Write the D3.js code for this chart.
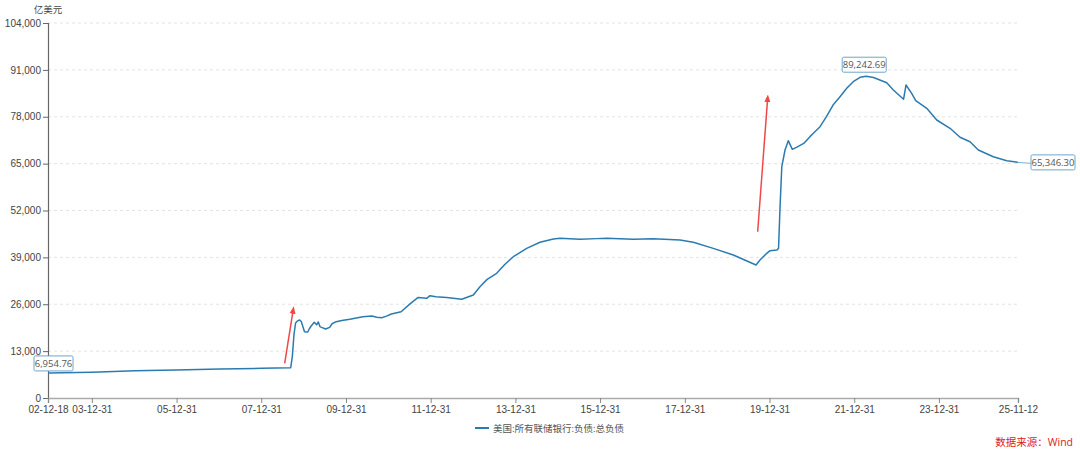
<!DOCTYPE html>
<html>
<head>
<meta charset="utf-8">
<script src="https://cdn.jsdelivr.net/npm/d3@7"></script>
<style>
  body { margin: 0; background: #fff; }
  svg { display: block; font-family: "Open Sans", "Noto Sans CJK SC", sans-serif; }
  .grid line { stroke: #e3e3e3; stroke-dasharray: 3,3; }
</style>
</head>
<body>
<div id="chart"></div>
<script>
// weekly series (亿美元)
var dates = ["2002-12-18","2004-01-01","2005-01-06","2005-12-26","2007-01-09","2008-01-06","2008-09-10",
  "2008-09-24","2008-10-08","2008-10-22","2008-11-05","2008-11-26","2008-12-10","2009-01-07","2009-02-04",
  "2009-02-18","2009-03-04","2009-04-01","2009-04-22","2009-05-06","2009-05-20","2009-06-03","2009-07-08",
  "2009-08-12","2009-09-02","2009-10-07","2009-11-25","2010-02-02","2010-05-25","2010-08-11","2010-09-22",
  "2010-11-03","2010-12-15","2011-01-26","2011-04-20","2011-07-06","2011-09-14","2011-11-27","2011-12-25",
  "2012-02-15","2012-05-17","2012-09-24","2013-01-02","2013-02-28","2013-05-01","2013-07-22","2013-10-02",
  "2013-12-13","2014-04-07","2014-07-31","2014-11-23","2015-01-19","2015-07-11","2015-12-02","2016-02-25",
  "2016-10-12","2017-04-03","2017-11-19","2018-03-14","2018-09-02","2019-02-22","2019-09-06","2019-10-10",
  "2019-12-07","2020-01-05","2020-03-04","2020-03-18","2020-03-31","2020-04-15","2020-05-13","2020-06-10",
  "2020-07-15","2020-08-19","2020-10-21","2020-12-14","2021-01-12","2021-03-11","2021-05-05","2021-07-01",
  "2021-08-30","2021-10-27","2021-12-22","2022-02-19","2022-04-13","2022-06-15","2022-10-07","2022-12-03",
  "2023-03-01","2023-03-22","2023-05-10","2023-06-14","2023-09-17","2023-12-12","2024-04-05","2024-06-30",
  "2024-09-24","2024-12-05","2025-04-13","2025-08-07","2025-11-12"];
var values = [6954.76,7130,7560,7760,8040,8240,8400,
  11500,17500,20800,21300,21630,21200,18400,18300,
  19200,19900,21000,20300,21100,19800,19600,19140,
  19600,20600,21160,21500,21830,22550,22740,22400,
  22270,22700,23300,23930,26100,27900,27650,28370,
  28100,27900,27370,28560,30870,32900,34580,37100,
  39190,41500,43180,44090,44280,44000,44200,44280,
  44000,44180,43800,43180,41500,39650,36880,38270,
  40120,40850,41040,41500,53050,64150,68780,71360,
  68970,69520,70600,72480,73400,75240,78010,81250,
  83560,85880,87720,88930,89242.69,88900,87440,85420,
  82840,86800,84500,82460,80340,77100,74800,72300,
  71080,68780,66920,65810,65346.30];

var yTicks = [0,13000,26000,39000,52000,65000,78000,91000,104000];
var xTicks = ["2002-12-18","2003-12-31","2005-12-31","2007-12-31","2009-12-31","2011-12-31","2013-12-31",
  "2015-12-31","2017-12-31","2019-12-31","2021-12-31","2023-12-31","2025-11-12"];

// red arrows: [tail date, tail value, head date, head value]
var arrows = [["2008-07-20",9620,"2008-10-01",24400],["2019-09-20",46120,"2019-12-15",83110]];
// boxed value labels: index into the series
var labelIdx = [0, 83, values.length - 1];

var seriesName = "美国:所有联储银行:负债:总负债";
var unitText = "亿美元";
var sourceText = "数据来源：Wind";

var W = 1080, H = 452;
var margin = { top: 23, right: 62, bottom: 54, left: 48 };
var width = W - margin.left - margin.right;
var height = H - margin.top - margin.bottom;
var parse = d3.timeParse("%Y-%m-%d");
var fmtTick = d3.timeFormat("%y-%m-%d");
var fmtVal = d3.format(",.2f");

var data = dates.map(function(d, i) { return { date: parse(d), value: values[i] }; });

var svg = d3.select("#chart").append("svg")
    .attr("width", W)
    .attr("height", H);

var g = svg.append("g")
    .attr("transform", "translate(" + margin.left + "," + margin.top + ")");

var x = d3.scaleTime().domain([parse(dates[0]), parse(dates[dates.length - 1])]).range([0, width]);
var y = d3.scaleLinear().domain([0, 104000]).range([height, 0]);

// gridlines
g.append("g")
    .attr("class", "grid")
    .selectAll("line").data(yTicks.slice(1)).enter().append("line")
    .attr("x1", 0).attr("x2", width)
    .attr("y1", d => y(d)).attr("y2", d => y(d));

// y axis
var yAxis = g.append("g")
    .call(d3.axisLeft(y).tickValues(yTicks).tickFormat(d3.format(",")).tickSize(5).tickPadding(2));
yAxis.select(".domain").attr("stroke", "#666").attr("stroke-width", 1.2);
yAxis.selectAll(".tick line").attr("stroke", "#666");
yAxis.selectAll("text").attr("fill", "#444").style("font-size", "10px");

// x axis
var xAxis = g.append("g")
    .attr("transform", "translate(0," + height + ")")
    .call(d3.axisBottom(x).tickValues(xTicks.map(parse)).tickFormat(fmtTick).tickSize(5).tickPadding(3));
xAxis.select(".domain").attr("stroke", "#aaa").attr("stroke-width", 1.5);
xAxis.selectAll(".tick line").attr("stroke", "#888");
xAxis.selectAll("text").attr("fill", "#444").style("font-size", "10px");

// unit
svg.append("text")
    .attr("x", 48).attr("y", 13)
    .attr("text-anchor", "middle")
    .attr("fill", "#444")
    .style("font-size", "9.5px")
    .text(unitText);

// red arrows
svg.append("defs").append("marker")
    .attr("id", "head")
    .attr("viewBox", "0 0 10 10")
    .attr("refX", 5).attr("refY", 5)
    .attr("markerWidth", 5).attr("markerHeight", 7)
    .attr("orient", "auto")
    .append("path").attr("d", "M0,1 L10,5 L0,9 Z").attr("fill", "#f04848");

g.selectAll(".arrow").data(arrows).enter().append("line")
    .attr("class", "arrow")
    .attr("x1", d => x(parse(d[0]))).attr("y1", d => y(d[1]))
    .attr("x2", d => x(parse(d[2]))).attr("y2", d => y(d[3]))
    .attr("stroke", "#f04848")
    .attr("stroke-width", 1.5)
    .attr("marker-end", "url(#head)");

// series line
var line = d3.line().x(d => x(d.date)).y(d => y(d.value));
g.append("path")
    .datum(data)
    .attr("fill", "none")
    .attr("stroke", "#2c7bb0")
    .attr("stroke-width", 1.5)
    .attr("stroke-linejoin", "round")
    .attr("d", line);

// boxed value labels
var lbl = g.selectAll(".lbl").data(labelIdx).enter().append("g").attr("class", "lbl");
lbl.each(function(i, k) {
    var d = data[i];
    var px = x(d.date), py = y(d.value);
    var bw = 44, bh = 15, bx, by;
    if (k == 0) { bw = 39; bx = px - 14; by = py - bh - 2; }
    else if (k == 1) { bx = px - bw / 2 - 2; by = py - bh - 4; }
    else { bx = px + 13; by = py - bh / 2;
        d3.select(this).append("line")
            .attr("x1", px).attr("y1", py).attr("x2", bx).attr("y2", py + 1)
            .attr("stroke", "#7fb0d0");
    }
    d3.select(this).append("rect")
        .attr("x", bx).attr("y", by).attr("width", bw).attr("height", bh)
        .attr("rx", 1.5)
        .attr("fill", "#fff")
        .attr("stroke", "#6fa6cb");
    d3.select(this).append("text")
        .attr("x", bx + bw / 2).attr("y", by + 11)
        .attr("text-anchor", "middle")
        .attr("fill", "#555")
        .style("font-size", "9.5px")
        .text(fmtVal(d.value));
});

// legend
var leg = svg.append("g").attr("transform", "translate(475,428)");
leg.append("line").attr("x1", 0).attr("x2", 14).attr("y1", 0).attr("y2", 0)
    .attr("stroke", "#2c7bb0").attr("stroke-width", 2);
leg.append("text").attr("x", 18).attr("y", 3.5)
    .attr("fill", "#555").style("font-size", "9.5px")
    .text(seriesName);

// source
svg.append("text")
    .attr("x", 1073).attr("y", 446)
    .attr("text-anchor", "end")
    .attr("fill", "#e02020")
    .style("font-size", "10.5px")
    .text(sourceText);
</script>
</body>
</html>
